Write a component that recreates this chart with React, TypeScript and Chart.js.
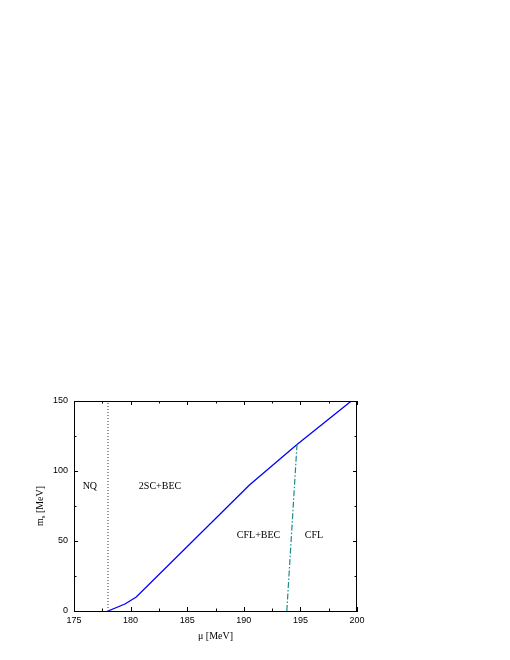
import React, { useEffect, useRef } from "react";
import { Chart, registerables } from "chart.js";

Chart.register(...registerables);

// Axis ticks
const xMajorTicks = [175, 180, 185, 190, 195, 200];
const xMinorTicks = [177.5, 182.5, 187.5, 192.5, 197.5];
const yMajorTicks = [0, 50, 100, 150];
const yMinorTicks = [25, 75, 125];

// Phase boundary 2SC+BEC / CFL+BEC (solid blue)
const boundaryMu = [178, 179.5, 180.5, 190.5, 194.7, 199.5];
const boundaryMs = [0, 5, 10, 90, 119, 150];

// CFL+BEC / CFL boundary (dash-dot teal)
const cflMu = [193.8, 194.7];
const cflMs = [0, 119];

// NQ boundary (dotted)
const nqMu = [178, 178];
const nqMs = [0, 150];

// Region labels
const regionLabels = ["NQ", "2SC+BEC", "CFL+BEC", "CFL"];
const regionMu = [176.4, 182.6, 191.3, 196.2];
const regionMs = [89, 89, 54, 54];

const xTitle = "μ [MeV]";
const yTitleMain = "m";
const yTitleSub = "s";
const yTitleRest = " [MeV]";

const pts = (xs: number[], ys: number[]) => xs.map((x, i) => ({ x, y: ys[i] }));

const decorPlugin = {
  id: "decor",
  afterDraw(chart: any) {
    const { ctx, chartArea, scales } = chart;
    const xs = scales.x;
    const ys = scales.y;
    ctx.save();
    ctx.strokeStyle = "#000";
    ctx.lineWidth = 1;
    // top & right frame
    ctx.beginPath();
    ctx.moveTo(chartArea.left, Math.round(chartArea.top) + 0.5);
    ctx.lineTo(chartArea.right, Math.round(chartArea.top) + 0.5);
    ctx.moveTo(Math.round(chartArea.right) - 0.5, chartArea.top);
    ctx.lineTo(Math.round(chartArea.right) - 0.5, chartArea.bottom);
    ctx.stroke();
    // inward ticks
    const tick = (v: number, len: number, horiz: boolean) => {
      if (horiz) {
        const px = Math.round(xs.getPixelForValue(v)) + 0.5;
        ctx.moveTo(px, chartArea.bottom);
        ctx.lineTo(px, chartArea.bottom - len);
        ctx.moveTo(px, chartArea.top);
        ctx.lineTo(px, chartArea.top + len);
      } else {
        const py = Math.round(ys.getPixelForValue(v)) + 0.5;
        ctx.moveTo(chartArea.left, py);
        ctx.lineTo(chartArea.left + len, py);
        ctx.moveTo(chartArea.right, py);
        ctx.lineTo(chartArea.right - len, py);
      }
    };
    ctx.beginPath();
    xMajorTicks.forEach((v) => tick(v, 4, true));
    xMinorTicks.forEach((v) => tick(v, 2.5, true));
    yMajorTicks.forEach((v) => tick(v, 4, false));
    yMinorTicks.forEach((v) => tick(v, 2.5, false));
    ctx.stroke();

    // region labels
    ctx.fillStyle = "#000";
    ctx.font = "10px 'Liberation Serif', serif";
    ctx.textAlign = "center";
    ctx.textBaseline = "middle";
    regionLabels.forEach((t, i) => {
      ctx.fillText(t, xs.getPixelForValue(regionMu[i]), ys.getPixelForValue(regionMs[i]));
    });

    // x title
    ctx.fillText(xTitle, (chartArea.left + chartArea.right) / 2, 636);

    // y title (rotated, with subscript)
    const cy = (chartArea.top + chartArea.bottom) / 2;
    ctx.translate(40, cy);
    ctx.rotate(-Math.PI / 2);
    ctx.font = "10px 'Liberation Serif', serif";
    const wM = ctx.measureText(yTitleMain).width;
    const wR = ctx.measureText(yTitleRest).width;
    ctx.font = "7px 'Liberation Serif', serif";
    const wS = ctx.measureText(yTitleSub).width;
    const total = wM + wS + wR;
    let x0 = -total / 2;
    ctx.textAlign = "left";
    ctx.font = "10px 'Liberation Serif', serif";
    ctx.fillText(yTitleMain, x0, 0);
    x0 += wM;
    ctx.font = "7px 'Liberation Serif', serif";
    ctx.fillText(yTitleSub, x0, 3);
    x0 += wS;
    ctx.font = "10px 'Liberation Serif', serif";
    ctx.fillText(yTitleRest, x0, 0);
    ctx.restore();
  },
};

export default function App() {
  const ref = useRef<HTMLCanvasElement | null>(null);
  useEffect(() => {
    if (!ref.current) return;
    const chart = new Chart(ref.current, {
      type: "scatter",
      data: {
        datasets: [
          {
            data: pts(nqMu, nqMs),
            showLine: true,
            borderColor: "#555",
            borderWidth: 1.2,
            borderDash: [1, 2],
            pointRadius: 0,
          },
          {
            data: pts(cflMu, cflMs),
            showLine: true,
            borderColor: "#1a8c8c",
            borderWidth: 1.2,
            borderDash: [6, 2, 1.5, 2],
            pointRadius: 0,
          },
          {
            data: pts(boundaryMu, boundaryMs),
            showLine: true,
            borderColor: "#0000ff",
            borderWidth: 1.3,
            pointRadius: 0,
          },
        ],
      },
      options: {
        animation: false,
        responsive: false,
        devicePixelRatio: 1,
        layout: { padding: { left: 0, right: 153, top: 401, bottom: 0 } },
        plugins: { legend: { display: false }, tooltip: { enabled: false } },
        scales: {
          x: {
            type: "linear",
            min: 175,
            max: 200,
            afterBuildTicks: (s: any) => {
              s.ticks = xMajorTicks.map((v) => ({ value: v }));
            },
            afterFit: (s: any) => {
              s.height = 49;
            },
            ticks: {
              color: "#000",
              padding: 4,
              font: { family: "'Liberation Sans', Arial, sans-serif", size: 9 },
              maxRotation: 0,
            },
            grid: { display: false, drawTicks: false },
            border: { display: true, color: "#000", width: 1 },
          },
          y: {
            type: "linear",
            min: 0,
            max: 150,
            afterBuildTicks: (s: any) => {
              s.ticks = yMajorTicks.map((v) => ({ value: v }));
            },
            afterFit: (s: any) => {
              s.width = 74;
            },
            ticks: {
              color: "#000",
              padding: 6,
              font: { family: "'Liberation Sans', Arial, sans-serif", size: 9 },
            },
            grid: { display: false, drawTicks: false },
            border: { display: true, color: "#000", width: 1 },
          },
        },
      },
      plugins: [decorPlugin],
    });
    return () => chart.destroy();
  }, []);
  return (
    <div style={{ position: "absolute", left: 0, top: 0, width: 510, height: 660 }}>
      <canvas ref={ref} width={510} height={660} style={{ width: 510, height: 660 }} />
    </div>
  );
}
